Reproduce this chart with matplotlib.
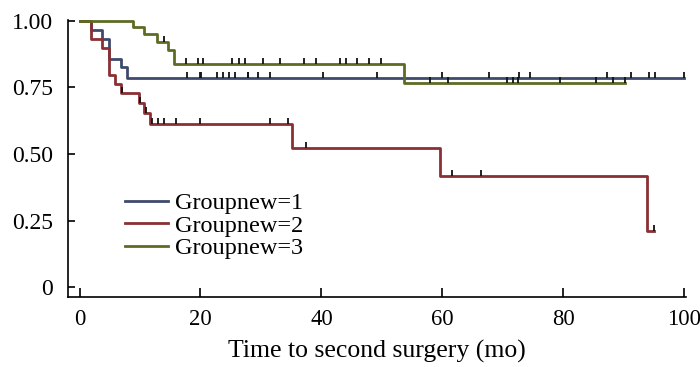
import matplotlib
matplotlib.use("Agg")
import matplotlib.pyplot as plt
import numpy as np

plt.rcParams['font.family'] = ['Liberation Serif', 'DejaVu Serif']

labels = ['Groupnew=1', 'Groupnew=2', 'Groupnew=3']
colors = ['#3e4a6c', '#8a2f33', '#5c6c22']

g1_time = [0, 1.9, 3.8, 4.9, 6.8, 7.8, 100.0]
g1_surv = [1.0, 0.965, 0.930, 0.856, 0.825, 0.786, 0.786]
g1_cens = [17.8, 19.9, 20.1, 22.7, 23.7, 24.7, 25.7, 27.8, 27.9, 29.6, 31.5,
           40.3, 49.2, 59.9, 67.7, 72.6, 74.5, 87.3, 91.2, 94.2, 95.2, 100.0]

g2_time = [0, 1.9, 3.8, 4.9, 5.8, 6.8, 9.8, 10.7, 11.7, 35.2, 59.6, 93.8, 95.0]
g2_surv = [1.0, 0.930, 0.899, 0.796, 0.763, 0.728, 0.690, 0.653, 0.611,
           0.521, 0.419, 0.211, 0.211]
g2_cens = [7.1, 10.0, 11.0, 12.0, 12.9, 14.0, 15.9, 19.9, 31.5, 34.5, 37.4,
           61.6, 66.4, 95.0]

g3_time = [0, 8.8, 10.7, 12.8, 14.6, 15.7, 53.7, 90.2]
g3_surv = [1.0, 0.977, 0.950, 0.919, 0.890, 0.838, 0.765, 0.765]
g3_cens = [14.0, 17.6, 19.6, 20.4, 25.3, 26.4, 27.3, 30.3, 33.2, 37.1, 39.1,
           43.0, 44.0, 45.9, 47.9, 49.9, 58.0, 61.0, 70.7, 71.7, 72.5, 79.5,
           85.4, 88.3, 90.2]

groups = [(g1_time, g1_surv, g1_cens), (g2_time, g2_surv, g2_cens),
          (g3_time, g3_surv, g3_cens)]

fig = plt.figure(figsize=(7, 3.67), dpi=100)
ax = fig.add_axes([0.0976, 0.1916, 0.8824, 0.754])

order = [1, 0, 2]
for i in order:
    t, s, c = groups[i]
    t = np.array(t)
    s = np.array(s)
    ax.step(t, s, where='post', color=colors[i], lw=2.0, label=labels[i],
            zorder=2 + i)
    c = np.array(c)
    cy = s[np.searchsorted(t, c, side='right') - 1]
    ax.plot(c, cy, ls='none', marker=2, ms=4, mew=1.3, color='#111111',
            zorder=6)

ax.set_xlim(-1.85, 100.3)
ax.set_ylim(-0.035, 1.003)
ax.set_xticks([0, 20, 40, 60, 80, 100])
ax.set_yticks([0, 0.25, 0.5, 0.75, 1.0])
ax.set_yticklabels(['0', '0.25', '0.50', '0.75', '1.00'])
ax.spines['top'].set_visible(False)
ax.spines['right'].set_visible(False)
ax.tick_params(axis='both', direction='in', width=1.2)
ax.tick_params(axis='x', length=6.5, pad=9, labelsize=16.3)
ax.tick_params(axis='y', length=5, pad=11, labelsize=17)
for sp in ['left', 'bottom']:
    ax.spines[sp].set_linewidth(1.2)
ax.set_xlabel('Time to second surgery (mo)', fontsize=18.5, labelpad=7)

h, l = ax.get_legend_handles_labels()
idx = [l.index(x) for x in labels]
ax.legend([h[k] for k in idx], labels, loc='upper left',
          bbox_to_anchor=(0.092, 0.378), frameon=False, fontsize=17.5,
          handlelength=1.75, handletextpad=0.3, labelspacing=0.02,
          borderpad=0, borderaxespad=0)

fig.savefig('out.png', dpi=100)
